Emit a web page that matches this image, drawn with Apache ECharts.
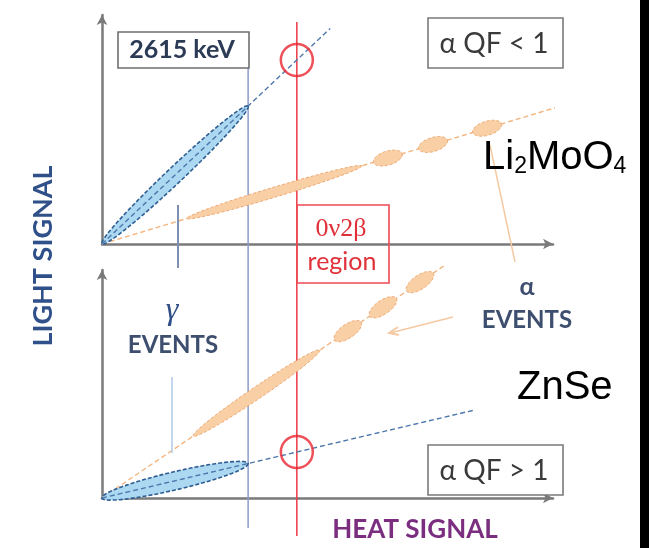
<!DOCTYPE html>
<html>
<head>
<meta charset="utf-8">
<script src="https://cdn.jsdelivr.net/npm/echarts@6/dist/echarts.min.js"></script>
<style>html,body{margin:0;padding:0;background:#fff}#c{width:649px;height:548px}</style>
</head>
<body>
<div id="c"></div>
<script>
// ---- data (heat signal / light signal, arbitrary units 0-100 per panel) ----
const panels = ['Li₂MoO₄', 'ZnSe'];
const gammaEnergy = 32.4;            // 2615 keV
const qbbEnergy = 43.2;              // 0ν2β region
const gammaSlope = [1.86, 0.467];    // light/heat for gamma band
const alphaSlope = [0.592, 1.343];   // light/heat for alpha band
const gammaLineEnd = [50.6, 82.7];
const alphaLineEnd = [107.8, 76.1];
const gammaBand = [[0, 32.4], [0, 32.4]];
const alphaBand = [[18.8, 57.6], [20.2, 48.3]];
const alphaPeaks = [[63.4, 73.4, 85.4], [54.5, 62.3, 70.5]];

const chart = echarts.init(document.getElementById('c'), null, {renderer: 'canvas'});

function ellipsePoly(cx, cy, a, b, ang) {
  const pts = [];
  for (let k = 0; k < 72; k++) {
    const t = k / 72 * 2 * Math.PI;
    const ex = a * Math.cos(t), ey = b * Math.sin(t);
    pts.push([cx + ex * Math.cos(ang) - ey * Math.sin(ang), cy + ex * Math.sin(ang) + ey * Math.cos(ang)]);
  }
  return pts;
}
function bandRender(slope, halfW, style) {
  return function (params, api) {
    const x0 = api.value(0), x1 = api.value(1);
    const p0 = api.coord([x0, slope * x0]);
    const p1 = api.coord([x1, slope * x1]);
    const dx = p1[0] - p0[0], dy = p1[1] - p0[1];
    return {type: 'polygon', shape: {points: ellipsePoly((p0[0] + p1[0]) / 2, (p0[1] + p1[1]) / 2, Math.hypot(dx, dy) / 2, halfW, Math.atan2(dy, dx))}, style: style};
  };
}
function peakRender(slope, halfL, halfW, style) {
  return function (params, api) {
    const xc = api.value(0);
    const o = api.coord([0, 0]);
    const c = api.coord([xc, slope * xc]);
    const ang = Math.atan2(c[1] - o[1], c[0] - o[0]);
    return {type: 'polygon', shape: {points: ellipsePoly(c[0], c[1], halfL, halfW, ang)}, style: style};
  };
}

const gammaStyle = {fill: '#acd8f2', stroke: '#2f5f92', lineWidth: 1.6, lineDash: [4, 2]};
const alphaStyle = {fill: '#f9cfa6', stroke: '#eea870', lineWidth: 1, lineDash: [3, 2]};

const axisCommon = {
  type: 'value', min: 0, max: 100,
  axisLine: {show: true, symbol: ['none', 'arrow'], symbolSize: [8, 10], lineStyle: {color: '#7a7a7a', width: 2.5}},
  axisTick: {show: false}, axisLabel: {show: false}, splitLine: {show: false}
};

const series = [];
for (let i = 0; i < 2; i++) {
  series.push({
    type: 'custom', xAxisIndex: i, yAxisIndex: i, clip: false, z: 3,
    renderItem: bandRender(gammaSlope[i], i === 0 ? 8 : 9, gammaStyle), data: [gammaBand[i]]
  });
  series.push({
    type: 'custom', xAxisIndex: i, yAxisIndex: i, clip: false, z: 3,
    renderItem: bandRender(alphaSlope[i], i === 0 ? 5 : 6, alphaStyle), data: [alphaBand[i]]
  });
  series.push({
    type: 'custom', xAxisIndex: i, yAxisIndex: i, clip: false, z: 3,
    renderItem: peakRender(alphaSlope[i], i === 0 ? 15 : 16, 7, alphaStyle), data: alphaPeaks[i].map(v => [v])
  });
  series.push({
    type: 'line', xAxisIndex: i, yAxisIndex: i, clip: false, showSymbol: false, silent: true, z: 4,
    lineStyle: {color: '#4d78ab', width: 1.4, type: [5, 3]},
    data: [[0, 0], [gammaLineEnd[i], gammaSlope[i] * gammaLineEnd[i]]]
  });
  series.push({
    type: 'line', xAxisIndex: i, yAxisIndex: i, clip: false, showSymbol: false, silent: true, z: 2,
    lineStyle: {color: '#f3b37c', width: 1.4, type: [5, 3]},
    data: [[0, 0], [alphaLineEnd[i], alphaSlope[i] * alphaLineEnd[i]]]
  });
  series.push({
    type: 'scatter', xAxisIndex: i, yAxisIndex: i, symbol: 'circle', symbolSize: 32, z: 6,
    itemStyle: {color: 'rgba(0,0,0,0)', borderColor: '#e82530', borderWidth: 2.5},
    data: [[qbbEnergy, gammaSlope[i] * qbbEnergy]]
  });
}
// vertical energy markers spanning both panels
series.push({
  type: 'custom', xAxisIndex: 0, yAxisIndex: 0, clip: false, z: 1,
  data: [[gammaEnergy], [qbbEnergy]],
  renderItem: function (params, api) {
    const x = api.coord([api.value(0), 0])[0];
    const red = params.dataIndex === 1;
    return {type: 'line', shape: {x1: x, y1: red ? 22 : 32, x2: x, y2: red ? 536 : 528},
      style: {stroke: red ? '#ec3a44' : '#8e9ccb', lineWidth: 1.5}};
  }
});

const font = 'Lato, "Open Sans", sans-serif';
function box(x, y, w, h, stroke, fill) {
  return {type: 'rect', z: 100, shape: {x: x, y: y, width: w, height: h}, style: {fill: fill || 'rgba(0,0,0,0)', stroke: stroke, lineWidth: 1.6}};
}
function txt(x, y, s, size, color, extra, rot) {
  return {type: 'text', z: 101, x: x, y: y, rotation: rot || 0,
    style: Object.assign({text: s, fontSize: size, fill: color, fontFamily: font, align: 'center', verticalAlign: 'middle'}, extra || {})};
}
const semi = {fontWeight: 'bold'};

const graphic = [
  {type: 'rect', z: 200, shape: {x: 640, y: 0, width: 9, height: 548}, style: {fill: '#000'}},
  // boxes
  box(118, 32, 131, 36, '#6f6f6f', '#fff'),
  txt(182, 50, '2615 keV', 25, '#2b3a55', semi),
  box(428, 18, 135, 50, '#7a7a7a', '#fff'),
  txt(494, 44, 'α QF < 1', 28, '#3a3a3a'),
  box(428, 445, 135, 50, '#7a7a7a', '#fff'),
  txt(494, 471, 'α QF > 1', 28, '#3a3a3a'),
  box(297, 205, 92, 78, '#ee4a52'),
  txt(341, 229, '0ν2β', 26, '#e0303a', {fontFamily: '"Liberation Serif", "DejaVu Serif", serif'}),
  txt(342, 262, 'region', 25, '#e0303a'),
  // material labels
  {type: 'text', z: 101, x: 483, y: 158, style: {
    text: '{b|Li}{s|2}{b|MoO}{s|4}', fontFamily: '"Liberation Sans", Arial, sans-serif', fill: '#000', verticalAlign: 'middle',
    rich: {b: {fontSize: 40, fontFamily: '"Liberation Sans", Arial, sans-serif', fill: '#000', lineHeight: 40, verticalAlign: 'bottom'},
           s: {fontSize: 23, fontFamily: '"Liberation Sans", Arial, sans-serif', fill: '#000', lineHeight: 40, verticalAlign: 'bottom'}}}},
  {type: 'text', z: 101, x: 517, y: 388, style: {text: 'ZnSe', fontSize: 40, fontFamily: '"Liberation Sans", Arial, sans-serif', fill: '#000', verticalAlign: 'middle'}},
  // axis titles
  txt(43, 256, 'LIGHT SIGNAL', 27, '#30508a', semi, Math.PI / 2),
  txt(415, 530, 'HEAT SIGNAL', 26, '#7b2e80', semi),
  // event labels
  txt(172, 311, 'γ', 32, '#2f4f86', {fontFamily: '"Liberation Serif", "DejaVu Serif", serif', fontStyle: 'italic'}),
  txt(173, 345, 'EVENTS', 24, '#3e4e6e', semi),
  txt(527, 287, 'α', 25, '#3e4e6e', semi),
  txt(527, 320, 'EVENTS', 24, '#3e4e6e', semi),
  // pointers
  {type: 'line', z: 50, shape: {x1: 178, y1: 205, x2: 178, y2: 268}, style: {stroke: '#7f8fb2', lineWidth: 2}},
  {type: 'line', z: 50, shape: {x1: 172, y1: 377, x2: 172, y2: 453}, style: {stroke: '#b4cde8', lineWidth: 1.6}},
  {type: 'line', z: 50, shape: {x1: 490, y1: 145, x2: 515, y2: 262}, style: {stroke: '#f5caa2', lineWidth: 1.5}},
  {type: 'line', z: 50, shape: {x1: 453, y1: 317, x2: 390, y2: 333}, style: {stroke: '#f5caa2', lineWidth: 1.8}},
  {type: 'polyline', z: 50, shape: {points: [[398, 327], [389, 333], [399, 335]]}, style: {stroke: '#f5caa2', lineWidth: 1.8, fill: null}}
];

chart.setOption({
  animation: false,
  backgroundColor: '#fff',
  grid: [
    {left: 102, top: 15, width: 451, height: 229},
    {left: 102, top: 270, width: 451, height: 228}
  ],
  xAxis: [Object.assign({gridIndex: 0}, axisCommon), Object.assign({gridIndex: 1}, axisCommon)],
  yAxis: [Object.assign({gridIndex: 0}, axisCommon), Object.assign({gridIndex: 1}, axisCommon)],
  series: series,
  graphic: graphic
});
</script>
</body>
</html>
